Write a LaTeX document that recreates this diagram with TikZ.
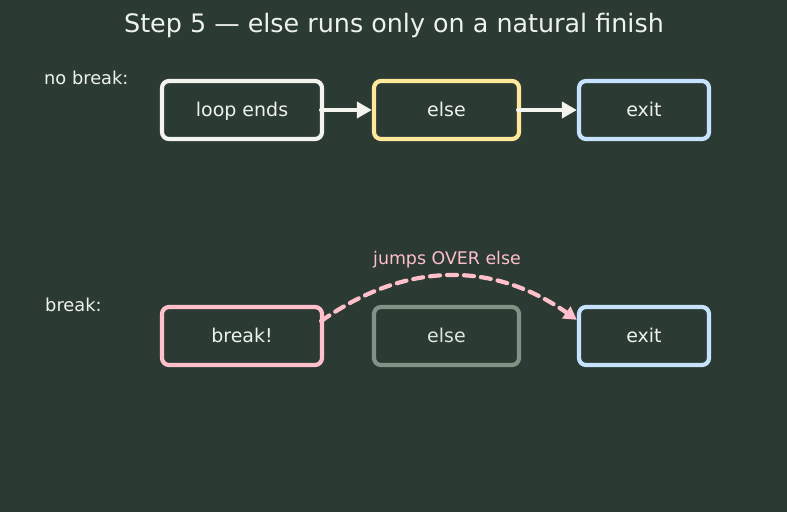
\documentclass[tikz,border=0pt]{standalone}
\usepackage{fontspec}
\setmainfont{DejaVu Sans}
\usetikzlibrary{arrows.meta,calc}
\definecolor{bg}{HTML}{2B3A33}
\definecolor{txt}{HTML}{EEF2EC}
\definecolor{cwhite}{HTML}{F4F4EE}
\definecolor{cyellow}{HTML}{FFE89A}
\definecolor{cblue}{HTML}{C6E2FF}
\definecolor{cpink}{HTML}{FFC0CB}
\definecolor{cgray}{HTML}{7F9484}
\definecolor{gtxt}{HTML}{DCE8DC}
\tikzset{
  box/.style={draw, line width=4.2pt, rounded corners=7pt, fill=bg, text=txt,
    minimum height=58pt, font=\fontsize{19}{22}\selectfont, inner sep=0pt,
    text height=14.5pt, text depth=2pt},
  side/.style={text=txt, font=\fontsize{17.8}{20}\selectfont, anchor=west, inner sep=0pt},
  arr/.style={draw=cwhite, line width=4.2pt, line cap=round,
    -{Triangle[length=15pt,width=16pt]}},
  jump/.style={draw=cpink, line width=4.2pt, line cap=round, dash pattern=on 10pt off 7pt,
    -{Triangle[length=13pt,width=14pt]}}
}
\begin{document}
\begin{tikzpicture}[x=1pt,y=-1pt]
\fill[bg] (0,0) rectangle (787,512);
\useasboundingbox (0,0) rectangle (787,512);
\node[text=txt, font=\fontsize{25.4}{28}\selectfont, inner sep=0pt] (title) at (394,25) {Step 5 — else runs only on a natural finish};
\node[side] (nb) at (44,78) {no break:};
\node[side] (b) at (45,305) {break:};
% row 1
\node[box, draw=cwhite, minimum width=160pt] (le) at (242,110) {loop ends};
\node[box, draw=cyellow, minimum width=145pt] (el1) at (446.5,110) {else};
\node[box, draw=cblue, minimum width=130pt] (ex1) at (644,110) {exit};
% row 2
\node[box, draw=cpink, minimum width=160pt] (br) at (242,336) {break!};
\node[box, draw=cgray, minimum width=145pt, text=gtxt] (el2) at (446.5,336) {else};
\node[box, draw=cblue, minimum width=130pt] (ex2) at (644,336) {exit};
% arrows
\draw[arr] ([xshift=-3pt]le.east) -- (el1.west);
\draw[arr] ([xshift=-3pt]el1.east) -- (ex1.west);
\coordinate (js) at ($(br.north east)!0.26!(br.south east)+(-3,0)$);
\coordinate (je) at ($(ex2.north west)!0.24!(ex2.south west)$);
\draw[jump] (js) .. controls (406,261) and (493,261) .. (je);
\node[text=cpink, font=\fontsize{17.4}{20}\selectfont, inner sep=0pt] (jl) at (447,260) {jumps OVER else};
\end{tikzpicture}
\end{document}
